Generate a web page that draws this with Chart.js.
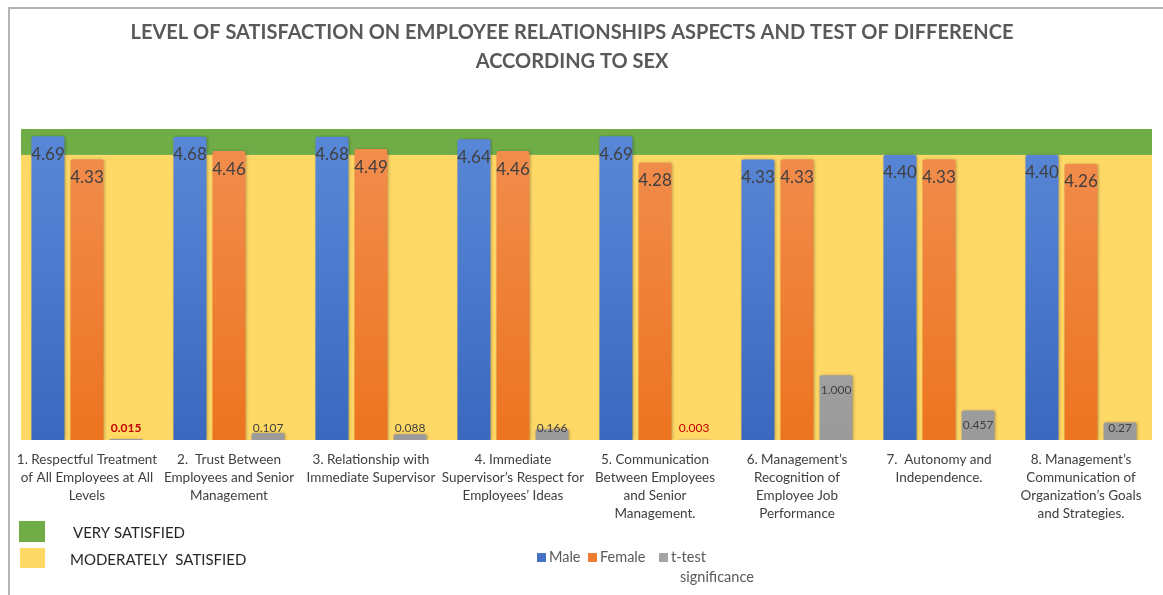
<!DOCTYPE html>
<html>
<head>
<meta charset="utf-8">
<script src="https://cdn.jsdelivr.net/npm/chart.js@4.4.1/dist/chart.umd.min.js"></script>
<style>
  html, body { margin: 0; padding: 0; background: #fff; }
  #chart { display: block; }
</style>
</head>
<body>
<canvas id="chart" width="1163" height="595"></canvas>
<script>
// Aspects compared, one label per group of bars
const categories = [
    ['1. Respectful Treatment', 'of All Employees at All', 'Levels'],
    ['2.  Trust Between', 'Employees and Senior', 'Management'],
    ['3. Relationship with', 'Immediate Supervisor'],
    ['4. Immediate', 'Supervisor\u2019s Respect for', 'Employees\u2019 Ideas'],
    ['5. Communication', 'Between Employees', 'and Senior', 'Management.'],
    ['6. Management\u2019s', 'Recognition of', 'Employee Job', 'Performance'],
    ['7.  Autonomy and', 'Independence.'],
    ['8. Management\u2019s', 'Communication of', 'Organization\u2019s Goals', 'and Strategies.']
];

// Mean satisfaction per sex
const maleMeans = [4.69, 4.68, 4.68, 4.64, 4.69, 4.33, 4.40, 4.40];
const femaleMeans = [4.33, 4.46, 4.49, 4.46, 4.28, 4.33, 4.33, 4.26];

// t-test p-values and how they are printed
const tTestValues = [0.015, 0.107, 0.088, 0.166, 0.003, 1.000, 0.457, 0.27];
const tTestLabels = ['0.015', '0.107', '0.088', '0.166', '0.003', '1.000', '0.457', '0.27'];

// Background bands (value ranges on the y axis)
const moderateBand = [0, 4.40];
const veryBand = [4.40, 4.80];

const FONT = 'Lato, "Open Sans", sans-serif';

// Vertical gradient across the chart area, lighter at the top
function barGradient(context, top, bottom) {
    const { chart } = context;
    const area = chart.chartArea;
    if (!area) return bottom;
    const g = chart.ctx.createLinearGradient(0, area.top, 0, area.bottom);
    g.addColorStop(0, top);
    g.addColorStop(1, bottom);
    return g;
}

// Green / yellow satisfaction bands behind the bars, plus the frame
const backgroundPlugin = {
    id: 'bands',
    beforeDraw(chart) {
        const { ctx, chartArea, scales } = chart;
        const y = scales.y;
        ctx.save();
        ctx.fillStyle = '#ffffff';
        ctx.fillRect(0, 0, chart.width, chart.height);

        ctx.strokeStyle = '#b4b4b4';
        ctx.lineWidth = 2;
        ctx.beginPath();
        ctx.moveTo(9, chart.height);
        ctx.lineTo(9, 8);
        ctx.lineTo(chart.width, 8);
        ctx.stroke();

        const left = chartArea.left + 5;
        const w = chartArea.right - left;
        ctx.fillStyle = '#ffd966';
        ctx.fillRect(left, y.getPixelForValue(moderateBand[1]), w,
            y.getPixelForValue(moderateBand[0]) - y.getPixelForValue(moderateBand[1]));
        ctx.fillStyle = '#70ad47';
        ctx.fillRect(left, y.getPixelForValue(veryBand[1]), w,
            y.getPixelForValue(veryBand[0]) - y.getPixelForValue(veryBand[1]));
        ctx.restore();
    }
};

// Soft shadow around the bars
const shadowPlugin = {
    id: 'barShadow',
    beforeDatasetsDraw(chart) {
        const ctx = chart.ctx;
        ctx.save();
        ctx.shadowColor = 'rgba(0,0,0,0.28)';
        ctx.shadowBlur = 3;
        ctx.shadowOffsetX = 1;
        ctx.shadowOffsetY = 0;
    },
    afterDatasetsDraw(chart) {
        chart.ctx.restore();
    }
};

// Value labels, title and the two legends
const labelsPlugin = {
    id: 'valueLabels',
    afterDraw(chart) {
        const { ctx, scales } = chart;
        const base = scales.y.getPixelForValue(0);
        ctx.save();
        ctx.textAlign = 'center';
        ctx.textBaseline = 'middle';

        // means inside the top of the bars
        [0, 1].forEach(di => {
            const meta = chart.getDatasetMeta(di);
            const values = chart.data.datasets[di].data;
            meta.data.forEach((bar, i) => {
                ctx.font = '17px ' + FONT;
                ctx.fillStyle = '#404040';
                ctx.fillText(values[i].toFixed(2), bar.x, bar.y + 18);
            });
        });

        // p-values
        const tMeta = chart.getDatasetMeta(2);
        tMeta.data.forEach((bar, i) => {
            const significant = tTestValues[i] < 0.05;
            const yPos = Math.min(bar.y + 15, base - 12);
            if (significant) {
                ctx.fillStyle = '#c00000';
                ctx.font = (i === 0 ? 'bold ' : '') + '12px ' + FONT;
            } else {
                ctx.fillStyle = '#404040';
                ctx.font = '12px ' + FONT;
            }
            ctx.fillText(tTestLabels[i], bar.x, yPos);
        });

        // title
        ctx.fillStyle = '#595959';
        ctx.font = 'bold 20px ' + FONT;
        ctx.fillText('LEVEL OF SATISFACTION ON EMPLOYEE RELATIONSHIPS ASPECTS AND TEST OF DIFFERENCE', 572, 33);
        ctx.fillText('ACCORDING TO SEX', 572, 62);

        // band legend
        ctx.textAlign = 'left';
        ctx.fillStyle = '#70ad47';
        ctx.fillRect(19, 521, 26, 21);
        ctx.fillStyle = '#ffd966';
        ctx.fillRect(20, 548, 25, 20);
        ctx.fillStyle = '#262626';
        ctx.font = '15px ' + FONT;
        ctx.fillText('VERY SATISFIED', 73, 533);
        ctx.fillText('MODERATELY  SATISFIED', 70, 560);

        // series legend
        const series = [
            { text: ['Male'], color: '#4472c4', x: 537 },
            { text: ['Female'], color: '#ed7d31', x: 588 },
            { text: ['t-test', 'significance'], color: '#a5a5a5', x: 659 }
        ];
        ctx.font = '14.5px ' + FONT;
        series.forEach(s => {
            ctx.fillStyle = s.color;
            ctx.fillRect(s.x, 553, 9, 9);
            ctx.fillStyle = '#595959';
            ctx.fillText(s.text[0], s.x + 12, 557);
            if (s.text[1]) ctx.fillText(s.text[1], s.x + 21, 577);
        });
        ctx.restore();
    }
};

new Chart(document.getElementById('chart'), {
    type: 'bar',
    data: {
        labels: categories,
        datasets: [
            {
                label: 'Male',
                data: maleMeans,
                backgroundColor: (c) => barGradient(c, '#5a88d8', '#3a68bf'),
                borderRadius: { topLeft: 2, topRight: 2 },
                borderSkipped: 'bottom'
            },
            {
                label: 'Female',
                data: femaleMeans,
                backgroundColor: (c) => barGradient(c, '#f28e50', '#ec741f'),
                borderRadius: { topLeft: 2, topRight: 2 },
                borderSkipped: 'bottom'
            },
            {
                label: 't-test significance',
                data: tTestValues,
                backgroundColor: (c) => barGradient(c, '#b4b4b4', '#9a9a9a'),
                borderRadius: { topLeft: 2, topRight: 2 },
                borderSkipped: 'bottom'
            }
        ]
    },
    options: {
        responsive: false,
        animation: false,
        categoryPercentage: 0.825,
        barPercentage: 0.845,
        layout: {
            padding: { top: 129, left: 16, right: 11, bottom: 0 }
        },
        scales: {
            x: {
                grid: { display: false, drawTicks: false },
                border: { display: false },
                ticks: {
                    color: '#404040',
                    padding: 11,
                    maxRotation: 0,
                    autoSkip: false,
                    font: { family: FONT, size: 13.5, lineHeight: '18px' }
                },
                afterFit(scale) { scale.height = 155; }
            },
            y: {
                display: false,
                min: 0,
                max: 4.8
            }
        },
        plugins: {
            legend: { display: false },
            tooltip: { enabled: false },
            title: { display: false }
        }
    },
    plugins: [backgroundPlugin, shadowPlugin, labelsPlugin]
});
</script>
</body>
</html>
